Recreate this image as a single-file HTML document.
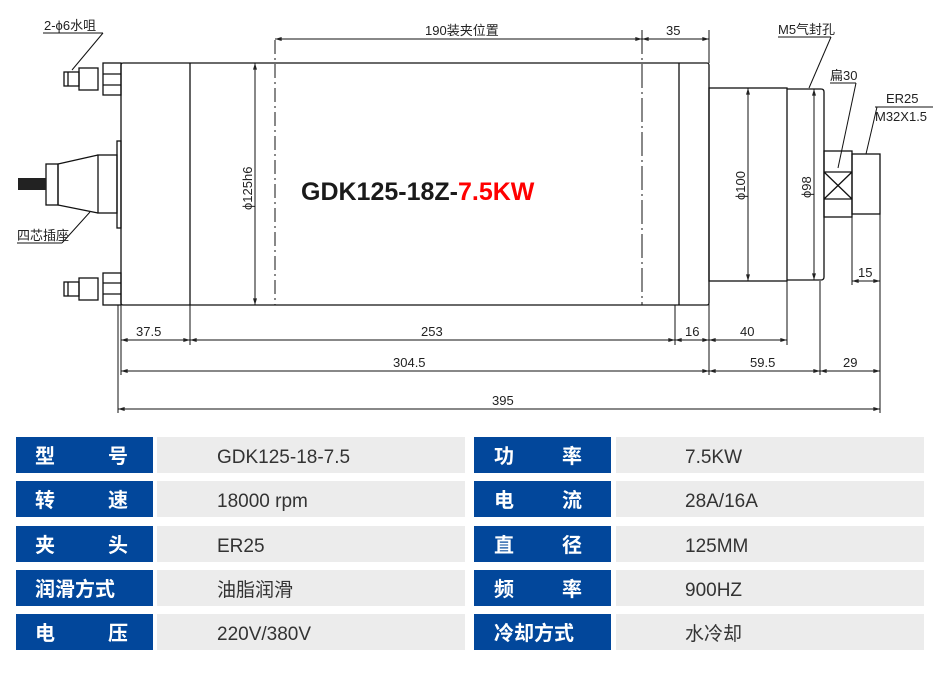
<!DOCTYPE html>
<html><head><meta charset="utf-8"><style>
html,body{margin:0;padding:0;background:#fff;}
svg{display:block;}
.d{font-family:"Liberation Sans","Noto Sans CJK SC",sans-serif;font-size:13px;fill:#222;}
.lb{font-family:"Noto Sans CJK SC",sans-serif;font-size:20px;font-weight:bold;fill:#fff;}
.v{font-family:"Liberation Sans","Noto Sans CJK SC",sans-serif;font-size:19px;fill:#333;}
</style></head><body>
<svg width="946" height="674" viewBox="0 0 946 674" xmlns="http://www.w3.org/2000/svg">
<defs>
<marker id="a" viewBox="0 0 10 6" refX="10" refY="3" markerWidth="8" markerHeight="4" orient="auto-start-reverse"><path d="M0,0L10,3L0,6z" fill="#222"/></marker>
</defs>
<g stroke="#111" stroke-width="1.3" fill="none">
<!-- body -->
<rect x="121" y="63" width="588" height="242" rx="2"/>
<line x1="190" y1="63" x2="190" y2="305"/>
<line x1="679" y1="63" x2="679" y2="305"/>
<line x1="275" y1="40" x2="275" y2="305" stroke-dasharray="14,4,2,4" stroke-width="1"/>
<line x1="642" y1="30" x2="642" y2="305" stroke-dasharray="24,4,2,4" stroke-width="1"/>
<!-- front -->
<rect x="709" y="88" width="78" height="193"/>
<path d="M787 89 H821 Q824 89 824 92 V277 Q824 280 821 280 H787"/>
<rect x="824" y="151" width="28" height="66"/>
<line x1="824" y1="172" x2="852" y2="172"/><line x1="824" y1="199" x2="852" y2="199"/>
<line x1="824" y1="172" x2="852" y2="199"/><line x1="852" y1="172" x2="824" y2="199"/>
<rect x="852" y="154" width="28" height="60"/>
<!-- fittings top -->
<rect x="103" y="63" width="18" height="32"/>
<line x1="103" y1="74" x2="121" y2="74"/><line x1="103" y1="85" x2="121" y2="85"/>
<rect x="79" y="68" width="19" height="22"/>
<rect x="64" y="72" width="15" height="14"/>
<line x1="68" y1="72" x2="68" y2="86"/>
<!-- fittings bottom -->
<rect x="103" y="273" width="18" height="32"/>
<line x1="103" y1="283" x2="121" y2="283"/><line x1="103" y1="294" x2="121" y2="294"/>
<rect x="79" y="278" width="19" height="22"/>
<rect x="64" y="282" width="15" height="14"/>
<line x1="68" y1="282" x2="68" y2="296"/>
<!-- plug -->
<rect x="117" y="141" width="4" height="87"/>
<rect x="98" y="155" width="19" height="58"/>
<path d="M98 155 L58 164 V205 L98 213"/>
<rect x="46" y="164" width="12" height="41"/>
</g>
<rect x="18" y="178" width="28" height="12" fill="#222"/>
<g stroke="#111" stroke-width="1" fill="none">
<!-- leaders -->
<line x1="43" y1="33" x2="103" y2="33"/><line x1="103" y1="33" x2="72" y2="70"/>
<line x1="17" y1="243" x2="62" y2="243"/><line x1="62" y1="243" x2="90" y2="212"/>
<line x1="778" y1="37" x2="831" y2="37"/><line x1="831" y1="37" x2="809" y2="88"/>
<line x1="830" y1="83" x2="856" y2="83"/><line x1="856" y1="83" x2="838" y2="168"/>
<line x1="875" y1="107" x2="933" y2="107"/><line x1="877" y1="107" x2="866" y2="154"/>
<!-- extension lines -->
<line x1="709" y1="30" x2="709" y2="63"/>
<line x1="118" y1="305" x2="118" y2="413"/>
<line x1="121" y1="305" x2="121" y2="375"/>
<line x1="190" y1="305" x2="190" y2="345"/>
<line x1="675" y1="305" x2="675" y2="345"/>
<line x1="709" y1="281" x2="709" y2="375"/>
<line x1="787" y1="281" x2="787" y2="345"/>
<line x1="820" y1="281" x2="820" y2="375"/>
<line x1="852" y1="217" x2="852" y2="285"/>
<line x1="880" y1="214" x2="880" y2="413"/>
<!-- dims -->
<line x1="275" y1="39" x2="642" y2="39" marker-start="url(#a)" marker-end="url(#a)"/>
<line x1="642" y1="39" x2="709" y2="39" marker-start="url(#a)" marker-end="url(#a)"/>
<line x1="255" y1="63" x2="255" y2="305" marker-start="url(#a)" marker-end="url(#a)"/>
<line x1="748" y1="88" x2="748" y2="281" marker-start="url(#a)" marker-end="url(#a)"/>
<line x1="814" y1="89" x2="814" y2="280" marker-start="url(#a)" marker-end="url(#a)"/>
<line x1="852" y1="281" x2="880" y2="281" marker-start="url(#a)" marker-end="url(#a)"/>
<line x1="121" y1="340" x2="190" y2="340" marker-start="url(#a)" marker-end="url(#a)"/>
<line x1="190" y1="340" x2="675" y2="340" marker-start="url(#a)" marker-end="url(#a)"/>
<line x1="675" y1="340" x2="709" y2="340" marker-start="url(#a)" marker-end="url(#a)"/>
<line x1="709" y1="340" x2="787" y2="340" marker-start="url(#a)" marker-end="url(#a)"/>
<line x1="121" y1="371" x2="709" y2="371" marker-start="url(#a)" marker-end="url(#a)"/>
<line x1="709" y1="371" x2="820" y2="371" marker-start="url(#a)" marker-end="url(#a)"/>
<line x1="820" y1="371" x2="880" y2="371" marker-start="url(#a)" marker-end="url(#a)"/>
<line x1="118" y1="409" x2="880" y2="409" marker-start="url(#a)" marker-end="url(#a)"/>
</g>
<g class="d">
<text x="44" y="30">2-ϕ6水咀</text>
<text x="17" y="240">四芯插座</text>
<text x="425" y="35">190装夹位置</text>
<text x="666" y="35">35</text>
<text x="778" y="34">M5气封孔</text>
<text x="830" y="80">扁30</text>
<text x="886" y="103">ER25</text>
<text x="875" y="121">M32X1.5</text>
<text x="858" y="277">15</text>
<text x="136" y="336">37.5</text>
<text x="421" y="336">253</text>
<text x="685" y="336">16</text>
<text x="740" y="336">40</text>
<text x="393" y="367">304.5</text>
<text x="750" y="367">59.5</text>
<text x="843" y="367">29</text>
<text x="492" y="405">395</text>
<text transform="translate(252,210) rotate(-90)">ϕ125h6</text>
<text transform="translate(745,200) rotate(-90)">ϕ100</text>
<text transform="translate(811,198) rotate(-90)">ϕ98</text>
</g>
<text x="301" y="200" font-family="Liberation Sans,sans-serif" font-weight="bold" font-size="25" fill="#1a1a1a">GDK125-18Z-<tspan fill="#f00">7.5KW</tspan></text>
<!-- table -->
<g fill="#02479b">
<rect x="16" y="437" width="137" height="36"/><rect x="16" y="481" width="137" height="36"/><rect x="16" y="526" width="137" height="36"/><rect x="16" y="570" width="137" height="36"/><rect x="16" y="614" width="137" height="36"/>
<rect x="474" y="437" width="137" height="36"/><rect x="474" y="481" width="137" height="36"/><rect x="474" y="526" width="137" height="36"/><rect x="474" y="570" width="137" height="36"/><rect x="474" y="614" width="137" height="36"/>
</g>
<g fill="#ececec">
<rect x="157" y="437" width="308" height="36"/><rect x="157" y="481" width="308" height="36"/><rect x="157" y="526" width="308" height="36"/><rect x="157" y="570" width="308" height="36"/><rect x="157" y="614" width="308" height="36"/>
<rect x="616" y="437" width="308" height="36"/><rect x="616" y="481" width="308" height="36"/><rect x="616" y="526" width="308" height="36"/><rect x="616" y="570" width="308" height="36"/><rect x="616" y="614" width="308" height="36"/>
</g>
<g class="lb">
<text x="35" y="463">型</text><text x="108" y="463">号</text>
<text x="35" y="507">转</text><text x="108" y="507">速</text>
<text x="35" y="552">夹</text><text x="108" y="552">头</text>
<text x="35" y="596">润滑方式</text>
<text x="35" y="640">电</text><text x="108" y="640">压</text>
<text x="494" y="463">功</text><text x="562" y="463">率</text>
<text x="494" y="507">电</text><text x="562" y="507">流</text>
<text x="494" y="552">直</text><text x="562" y="552">径</text>
<text x="494" y="596">频</text><text x="562" y="596">率</text>
<text x="494" y="640">冷却方式</text>
</g>
<g class="v">
<text x="217" y="463">GDK125-18-7.5</text>
<text x="217" y="507">18000 rpm</text>
<text x="217" y="552">ER25</text>
<text x="217" y="596">油脂润滑</text>
<text x="217" y="640">220V/380V</text>
<text x="685" y="463">7.5KW</text>
<text x="685" y="507">28A/16A</text>
<text x="685" y="552">125MM</text>
<text x="685" y="596">900HZ</text>
<text x="685" y="640">水冷却</text>
</g>
</svg>
</body></html>
